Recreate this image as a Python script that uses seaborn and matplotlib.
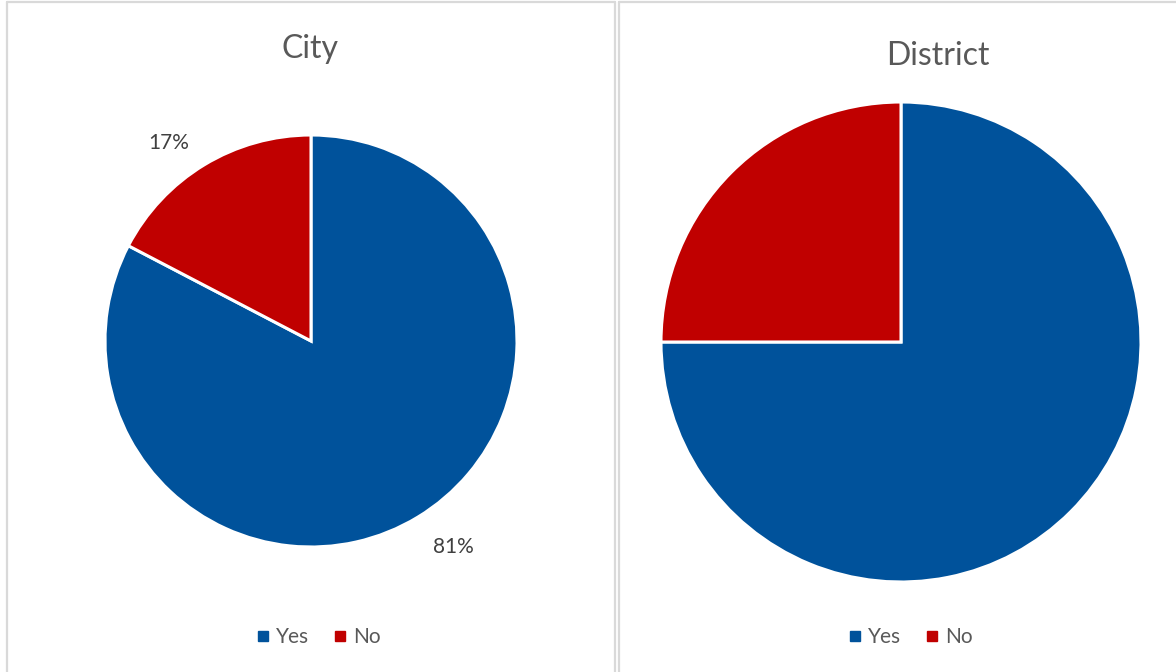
import matplotlib
matplotlib.use("Agg")
import numpy as np
import matplotlib.pyplot as plt
from matplotlib.lines import Line2D
import seaborn as sns

# Survey answers, in percent
categories = ["Yes", "No"]
city_values = [81, 17]
district_values = [75, 25]
panel_titles = ["City", "District"]

sns.set_theme(style="white")
plt.rcParams["font.family"] = ["Lato", "DejaVu Sans"]

colors = sns.color_palette(["#00529b", "#c00000"])
text_color = "#595959"
border_color = "#d9d9d9"

W, H = 1176, 672
fig = plt.figure(figsize=(W / 100, H / 100), dpi=100)
fig.patch.set_facecolor("white")


def fig_rect(cx, cy, r):
    """Axes rectangle (figure fraction) for a pie centred at pixel (cx, cy) with radius r."""
    return [(cx - r) / W, (H - cy - r) / H, 2 * r / W, 2 * r / H]


def draw_pie(rect, values, show_labels):
    ax = fig.add_axes(rect)
    total = sum(values)
    kwargs = dict(
        colors=colors,
        startangle=90,
        counterclock=False,
        radius=1.0,
        wedgeprops=dict(edgecolor="white", linewidth=2.2),
    )
    if show_labels:
        kwargs.update(
            autopct=lambda p: f"{p * total / 100:.0f}%",
            pctdistance=1.2,
            textprops=dict(color="#404040", fontsize=15),
        )
    result = ax.pie(values, **kwargs)
    if show_labels:
        wedges, _, pct_texts = result
        # outside-end labels, turned slightly counter-clockwise from the wedge middle
        for w, t in zip(wedges, pct_texts):
            ang = np.deg2rad((w.theta1 + w.theta2) / 2 + 4)
            t.set_position((1.2 * np.cos(ang), 1.2 * np.sin(ang) - 0.02))
    ax.set_xlim(-1, 1)
    ax.set_ylim(-1, 1)
    ax.set_aspect("equal")
    ax.axis("off")
    return ax


ax_city = draw_pie(fig_rect(311, 341, 206), city_values, True)
ax_dist = draw_pie(fig_rect(901, 342, 240), district_values, False)

# Panel titles
fig.text(310 / W, 1 - 49 / H, panel_titles[0], ha="center", va="center",
         fontsize=23, color=text_color)
fig.text(938 / W, 1 - 56 / H, panel_titles[1], ha="center", va="center",
         fontsize=23, color=text_color)

# Legends below each pie
handles = [Line2D([0], [0], marker="s", linestyle="none", markersize=7,
                  markerfacecolor=c, markeredgecolor=c) for c in colors]
for cx in (318, 910):
    fig.legend(handles, categories, loc="center", ncol=2, frameon=False,
               bbox_to_anchor=(cx / W, 1 - 637 / H), fontsize=15,
               labelcolor=text_color, handletextpad=0.3, columnspacing=1.1,
               handlelength=0.7)

# Panel borders
def vline(x, y0, y1):
    fig.add_artist(Line2D([x / W, x / W], [1 - y0 / H, 1 - y1 / H],
                          color=border_color, linewidth=1.6))


def hline(y, x0, x1):
    fig.add_artist(Line2D([x0 / W, x1 / W], [1 - y / H, 1 - y / H],
                          color=border_color, linewidth=1.6))


vline(6.8, 1.5, H + 5)
vline(614.8, 1.5, H + 5)
hline(1.5, 6.8, 614.8)
vline(618.5, 1.5, H + 5)
hline(1.5, 618.5, W + 5)

fig.savefig("out.png", dpi=100, facecolor="white")
